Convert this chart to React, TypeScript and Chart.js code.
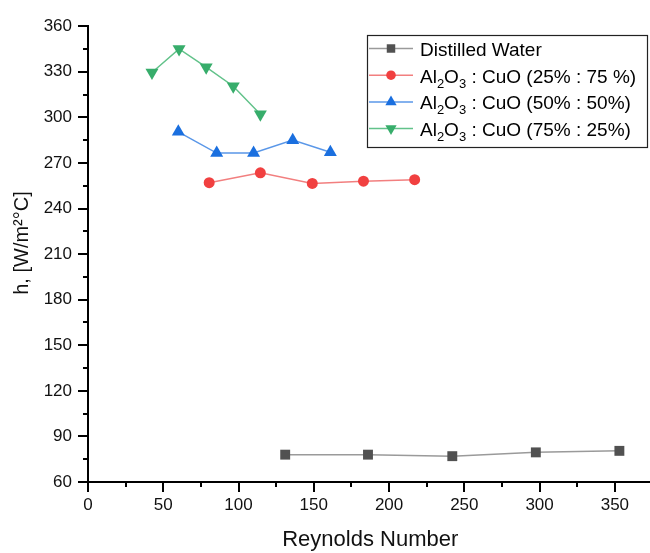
import React, { useEffect, useRef } from 'react';
import { Chart, registerables } from 'chart.js';
import { drawPoint } from 'chart.js/helpers';

Chart.register(...registerables);

const FONT = '"Liberation Sans", Arial, Helvetica, sans-serif';

// Series labels ("_n" marks a subscript digit)
const seriesLabels = [
  'Distilled Water',
  'Al_2O_3 : CuO (25% : 75 %)',
  'Al_2O_3 : CuO (50% : 50%)',
  'Al_2O_3 : CuO (75% : 25%)',
];

// Distilled water
const waterRe = [131, 186, 242, 297.5, 353];
const waterH = [78, 78, 77, 79.5, 80.5];
// Al2O3 : CuO (25% : 75 %)
const mix25Re = [80.5, 114.5, 149, 183, 217];
const mix25H = [257, 263.5, 256.5, 258, 259];
// Al2O3 : CuO (50% : 50%)
const mix50Re = [60, 85.5, 110, 136, 161];
const mix50H = [290.5, 276.5, 276.5, 285, 277];
// Al2O3 : CuO (75% : 25%)
const mix75Re = [42.5, 60.5, 78.5, 96.5, 114.5];
const mix75H = [329.5, 345, 333, 320.5, 302];

// Axis ticks
const xMajorTicks = [0, 50, 100, 150, 200, 250, 300, 350];
const xMinorTicks = [25, 75, 125, 175, 225, 275, 325];
const yMajorTicks = [60, 90, 120, 150, 180, 210, 240, 270, 300, 330, 360];
const yMinorTicks = [75, 105, 135, 165, 195, 225, 255, 285, 315, 345];

const xTitle = 'Reynolds Number';
const yTitle = 'h, [W/m²°C]';

const markerColors = ['#515151', '#F14040', '#1A6FDF', '#37AD6B'];
const lineColors = ['#9a9a9a', '#f27f7f', '#5a97e8', '#62c28a'];
const pointStyles = ['rect', 'circle', 'triangle', 'triangle'];
const pointRotations = [0, 0, 0, 180];
const pointRadii = [7, 5.5, 7.5, 7.5];
const legendRadii = [6, 4.8, 6.5, 6.5];

const plainLabel = (s: string) => s.replace(/_(\d)/g, (_m, d) => (d === '2' ? '₂' : d === '3' ? '₃' : d));
const toPoints = (xs: number[], ys: number[]) => xs.map((x, i) => ({ x, y: ys[i] }));

const axisTicksPlugin = {
  id: 'axisTicks',
  afterDraw(chart: any) {
    const { ctx, chartArea, scales } = chart;
    const xs = scales.x;
    const ys = scales.y;
    ctx.save();
    ctx.strokeStyle = '#000';
    ctx.lineWidth = 2;
    ctx.beginPath();
    const left = chartArea.left;
    const bottom = chartArea.bottom;
    yMajorTicks.forEach((v) => {
      const p = Math.round(ys.getPixelForValue(v));
      ctx.moveTo(left - 10, p);
      ctx.lineTo(left, p);
    });
    yMinorTicks.forEach((v) => {
      const p = Math.round(ys.getPixelForValue(v));
      ctx.moveTo(left - 5, p);
      ctx.lineTo(left, p);
    });
    xMajorTicks.forEach((v) => {
      const p = Math.round(xs.getPixelForValue(v));
      ctx.moveTo(p, bottom);
      ctx.lineTo(p, bottom + 10);
    });
    xMinorTicks.forEach((v) => {
      const p = Math.round(xs.getPixelForValue(v));
      ctx.moveTo(p, bottom);
      ctx.lineTo(p, bottom + 5);
    });
    ctx.stroke();

    // vertical axis title
    ctx.translate(22, 243);
    ctx.rotate(-Math.PI / 2);
    ctx.fillStyle = '#111';
    ctx.font = `20px ${FONT}`;
    ctx.textAlign = 'center';
    ctx.textBaseline = 'middle';
    ctx.fillText(yTitle, 0, 0);
    ctx.restore();
  },
};

function drawRich(ctx: CanvasRenderingContext2D, text: string, x: number, baseline: number) {
  const parts = text.split(/(_\d)/).filter((p) => p.length > 0);
  let cx = x;
  for (const p of parts) {
    if (p.startsWith('_')) {
      const s = p.slice(1);
      ctx.font = `13px ${FONT}`;
      ctx.fillText(s, cx, baseline + 5);
      cx += ctx.measureText(s).width;
    } else {
      ctx.font = `19px ${FONT}`;
      ctx.fillText(p, cx, baseline);
      cx += ctx.measureText(p).width;
    }
  }
}

const legendPlugin = {
  id: 'boxLegend',
  afterDraw(chart: any) {
    const { ctx } = chart;
    const bx = 367.5;
    const by = 35.5;
    const bw = 280;
    const bh = 112;
    ctx.save();
    ctx.fillStyle = '#fff';
    ctx.fillRect(bx, by, bw, bh);
    ctx.strokeStyle = '#222';
    ctx.lineWidth = 1.2;
    ctx.strokeRect(bx, by, bw, bh);
    seriesLabels.forEach((label, i) => {
      const ry = 48.5 + i * 26.7;
      ctx.strokeStyle = lineColors[i];
      ctx.lineWidth = 1.5;
      ctx.beginPath();
      ctx.moveTo(369, ry);
      ctx.lineTo(413, ry);
      ctx.stroke();
      ctx.fillStyle = markerColors[i];
      drawPoint(ctx, {
        pointStyle: pointStyles[i],
        rotation: pointRotations[i],
        radius: legendRadii[i],
        borderWidth: 0,
      } as any, 391, ry);
      ctx.fillStyle = '#000';
      ctx.textAlign = 'left';
      ctx.textBaseline = 'alphabetic';
      drawRich(ctx, label, 420, ry + 7.5);
    });
    ctx.restore();
  },
};

export default function App() {
  const canvasRef = useRef<HTMLCanvasElement | null>(null);

  useEffect(() => {
    if (!canvasRef.current) return;
    const seriesX = [waterRe, mix25Re, mix50Re, mix75Re];
    const seriesY = [waterH, mix25H, mix50H, mix75H];
    const chart = new Chart(canvasRef.current, {
      type: 'line',
      data: {
        datasets: seriesLabels.map((label, i) => ({
          label: plainLabel(label),
          data: toPoints(seriesX[i], seriesY[i]),
          borderColor: lineColors[i],
          backgroundColor: markerColors[i],
          borderWidth: 1.5,
          pointStyle: pointStyles[i] as any,
          rotation: pointRotations[i],
          pointRadius: pointRadii[i],
          pointBackgroundColor: markerColors[i],
          pointBorderColor: markerColors[i],
          pointBorderWidth: 0,
          tension: 0,
          fill: false,
        })),
      },
      options: {
        responsive: false,
        animation: false,
        clip: false as any,
        layout: { padding: { top: 21, left: 0, right: 0, bottom: 0 } },
        plugins: {
          legend: { display: false },
          tooltip: { enabled: false },
        },
        scales: {
          x: {
            type: 'linear',
            min: 0,
            max: 375,
            grid: { display: false, drawTicks: false },
            border: { display: true, color: '#000', width: 2 },
            afterBuildTicks: (scale: any) => {
              scale.ticks = xMajorTicks.map((v) => ({ value: v }));
            },
            afterFit: (scale: any) => {
              scale.height = 71;
            },
            ticks: {
              color: '#111',
              font: { family: FONT, size: 17 },
              padding: 13,
              maxRotation: 0,
              callback: (v: any) => String(v),
            },
            title: {
              display: true,
              text: xTitle,
              color: '#111',
              font: { family: FONT, size: 22 },
              padding: { top: 0, bottom: 0 },
            },
          },
          y: {
            type: 'linear',
            min: 60,
            max: 360,
            grid: { display: false, drawTicks: false },
            border: { display: true, color: '#000', width: 2 },
            afterBuildTicks: (scale: any) => {
              scale.ticks = yMajorTicks.map((v) => ({ value: v }));
            },
            afterFit: (scale: any) => {
              scale.width = 88;
            },
            ticks: {
              color: '#111',
              font: { family: FONT, size: 17 },
              padding: 16,
              callback: (v: any) => String(v),
            },
            title: { display: false, text: yTitle },
          },
        },
      },
      plugins: [axisTicksPlugin, legendPlugin],
    });
    return () => chart.destroy();
  }, []);

  return (
    <div style={{ position: 'fixed', left: 0, top: 0, width: 650, height: 553, overflow: 'hidden', background: '#fff' }}>
      <canvas ref={canvasRef} width={660} height={553} style={{ display: 'block', width: 660, height: 553 }} />
    </div>
  );
}
